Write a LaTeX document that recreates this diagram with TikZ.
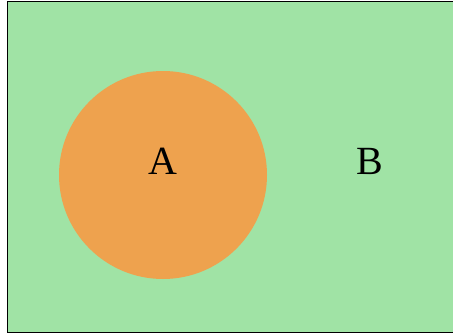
\documentclass[tikz,border=0pt]{standalone}
\usepackage{fontspec}
\setmainfont{Liberation Serif}
\definecolor{bggreen}{RGB}{160,227,165}
\definecolor{circorange}{RGB}{238,162,78}
\tikzset{lbl/.style={font=\fontsize{40}{40}\selectfont, inner sep=0pt, anchor=base}}
\begin{document}
\begin{tikzpicture}[x=1pt,y=-1pt]
\useasboundingbox (0,0) rectangle (453,335);
\node[draw=black, line width=1pt, fill=bggreen, minimum width=450pt, minimum height=331pt, anchor=north west, inner sep=0pt] (bg) at (6.5,0.5) {};
\node[circle, fill=circorange, minimum size=208pt, inner sep=0pt] (A) at (163,175) {};
\node[lbl] (la) at (163,174) {A};
\node[lbl] (lb) at (370,174) {B};
\end{tikzpicture}
\end{document}
